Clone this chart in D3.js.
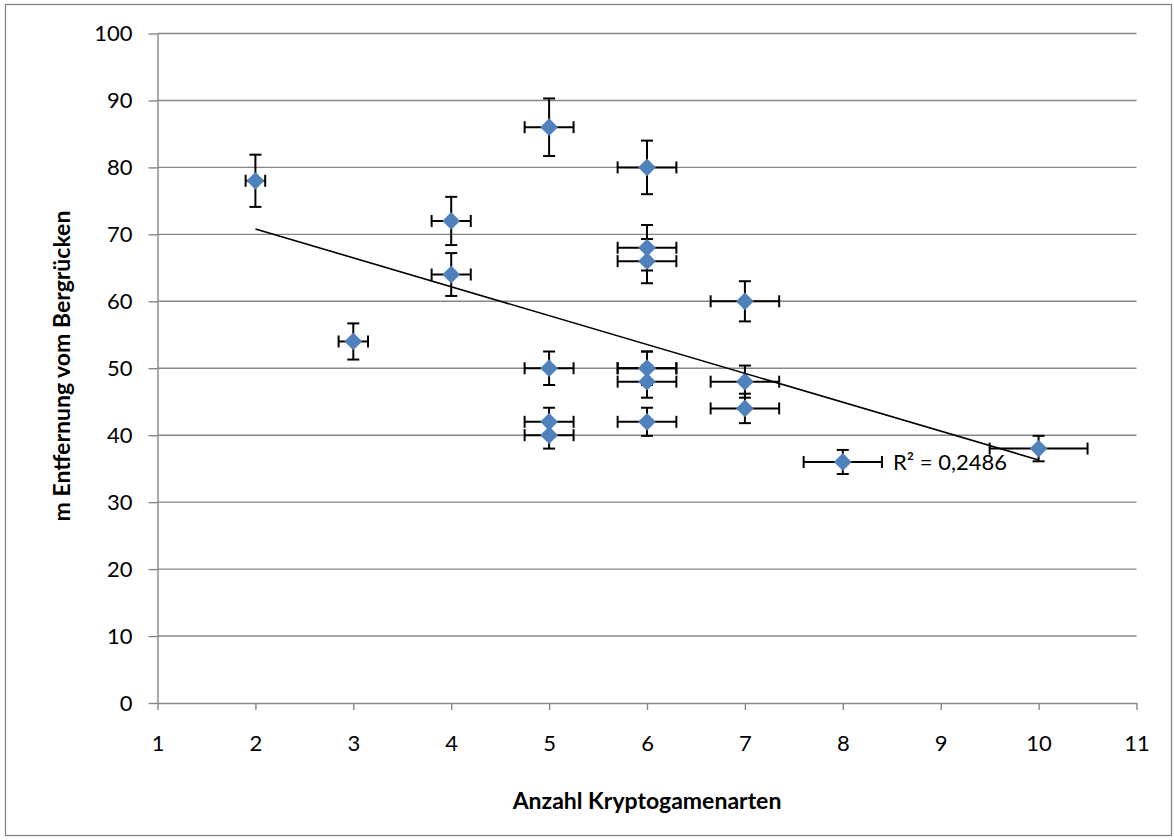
<!DOCTYPE html>
<html>
<head>
<meta charset="utf-8">
<script src="https://cdn.jsdelivr.net/npm/d3@7"></script>
<style>
  body { margin: 0; background: #fff; }
  text { font-family: Lato, "Open Sans", sans-serif; fill: #000; }
</style>
</head>
<body>
<svg width="1174" height="840"></svg>
<script>
// data
var species = [2, 3, 4, 4, 5, 5, 5, 5, 6, 6, 6, 6, 6, 6, 6, 7, 7, 7, 8, 10];
var distance = [78, 54, 72, 64, 86, 50, 42, 40, 80, 68, 66, 50, 50, 48, 42, 60, 48, 44, 36, 38];
var errPct = 0.05; // percentage error bars, both directions
var trendX = [2, 10];
var trendY = [70.8, 36.3];
var rSquared = 'R² = 0,2486';
var xTicks = [1, 2, 3, 4, 5, 6, 7, 8, 9, 10, 11];
var yTicks = [0, 10, 20, 30, 40, 50, 60, 70, 80, 90, 100];

var svg = d3.select('svg');
var grey = '#868686';

// outer chart border
svg.append('rect')
  .attr('x', 5.5).attr('y', 4.5)
  .attr('width', 1166).attr('height', 831)
  .attr('fill', 'none').attr('stroke', grey).attr('stroke-width', 1.3);

var x = d3.scaleLinear().domain([1, 11]).range([157.5, 1136.5]);
var y = d3.scaleLinear().domain([0, 100]).range([703, 33.5]);

// horizontal gridlines
svg.append('g').selectAll('line').data(yTicks.slice(1)).enter().append('line')
  .attr('x1', x(1)).attr('x2', x(11))
  .attr('y1', function(d) { return y(d); })
  .attr('y2', function(d) { return y(d); })
  .attr('stroke', grey).attr('stroke-width', 1.4);

var yAxis = svg.append('g')
  .attr('transform', 'translate(' + x(1) + ',0)')
  .call(d3.axisLeft(y).tickValues(yTicks).tickSize(9).tickPadding(16).tickSizeOuter(0));
var xAxis = svg.append('g')
  .attr('transform', 'translate(0,' + y(0) + ')')
  .call(d3.axisBottom(x).tickValues(xTicks).tickSize(7).tickPadding(25).tickSizeOuter(0));

[xAxis, yAxis].forEach(function(g) {
  g.select('.domain').attr('stroke', grey).attr('stroke-width', 1.4);
  g.selectAll('.tick line').attr('stroke', grey).attr('stroke-width', 1.4);
  g.selectAll('.tick text').attr('font-size', 22).attr('fill', '#000')
    .style('font-family', 'Lato, "Open Sans", sans-serif');
});

var points = species.map(function(d, i) { return { x: d, y: distance[i] }; });
var cap = 6;

// error bars
var bars = svg.append('g').attr('stroke', '#000').attr('stroke-width', 2).attr('fill', 'none');
points.forEach(function(p) {
  var ex = p.x * errPct, ey = p.y * errPct;
  var cx = x(p.x), cy = y(p.y);
  // horizontal
  bars.append('line').attr('x1', x(p.x - ex)).attr('x2', x(p.x + ex)).attr('y1', cy).attr('y2', cy);
  bars.append('line').attr('x1', x(p.x - ex)).attr('x2', x(p.x - ex)).attr('y1', cy - cap).attr('y2', cy + cap);
  bars.append('line').attr('x1', x(p.x + ex)).attr('x2', x(p.x + ex)).attr('y1', cy - cap).attr('y2', cy + cap);
  // vertical
  bars.append('line').attr('x1', cx).attr('x2', cx).attr('y1', y(p.y - ey)).attr('y2', y(p.y + ey));
  bars.append('line').attr('x1', cx - cap).attr('x2', cx + cap).attr('y1', y(p.y - ey)).attr('y2', y(p.y - ey));
  bars.append('line').attr('x1', cx - cap).attr('x2', cx + cap).attr('y1', y(p.y + ey)).attr('y2', y(p.y + ey));
});

// diamond markers
svg.append('g').selectAll('path').data(points).enter().append('path')
  .attr('d', d3.symbol().type(d3.symbolDiamond2).size(200))
  .attr('transform', function(d) { return 'translate(' + x(d.x) + ',' + y(d.y) + ')'; })
  .attr('fill', '#4F81BD');

// linear trendline
svg.append('line')
  .attr('x1', x(trendX[0])).attr('y1', y(trendY[0]))
  .attr('x2', x(trendX[1])).attr('y2', y(trendY[1]))
  .attr('stroke', '#000').attr('stroke-width', 1.6);

svg.append('text')
  .attr('x', 893).attr('y', 470)
  .attr('font-size', 22)
  .text(rSquared);

// axis titles
svg.append('text')
  .attr('x', (x(1) + x(11)) / 2).attr('y', 809)
  .attr('text-anchor', 'middle')
  .attr('font-size', 23).attr('font-weight', 'bold')
  .text('Anzahl Kryptogamenarten');

svg.append('text')
  .attr('transform', 'translate(70,' + 366 + ') rotate(-90)')
  .attr('text-anchor', 'middle')
  .attr('font-size', 23).attr('font-weight', 'bold')
  .text('m Entfernung vom Bergrücken');
</script>
</body>
</html>
